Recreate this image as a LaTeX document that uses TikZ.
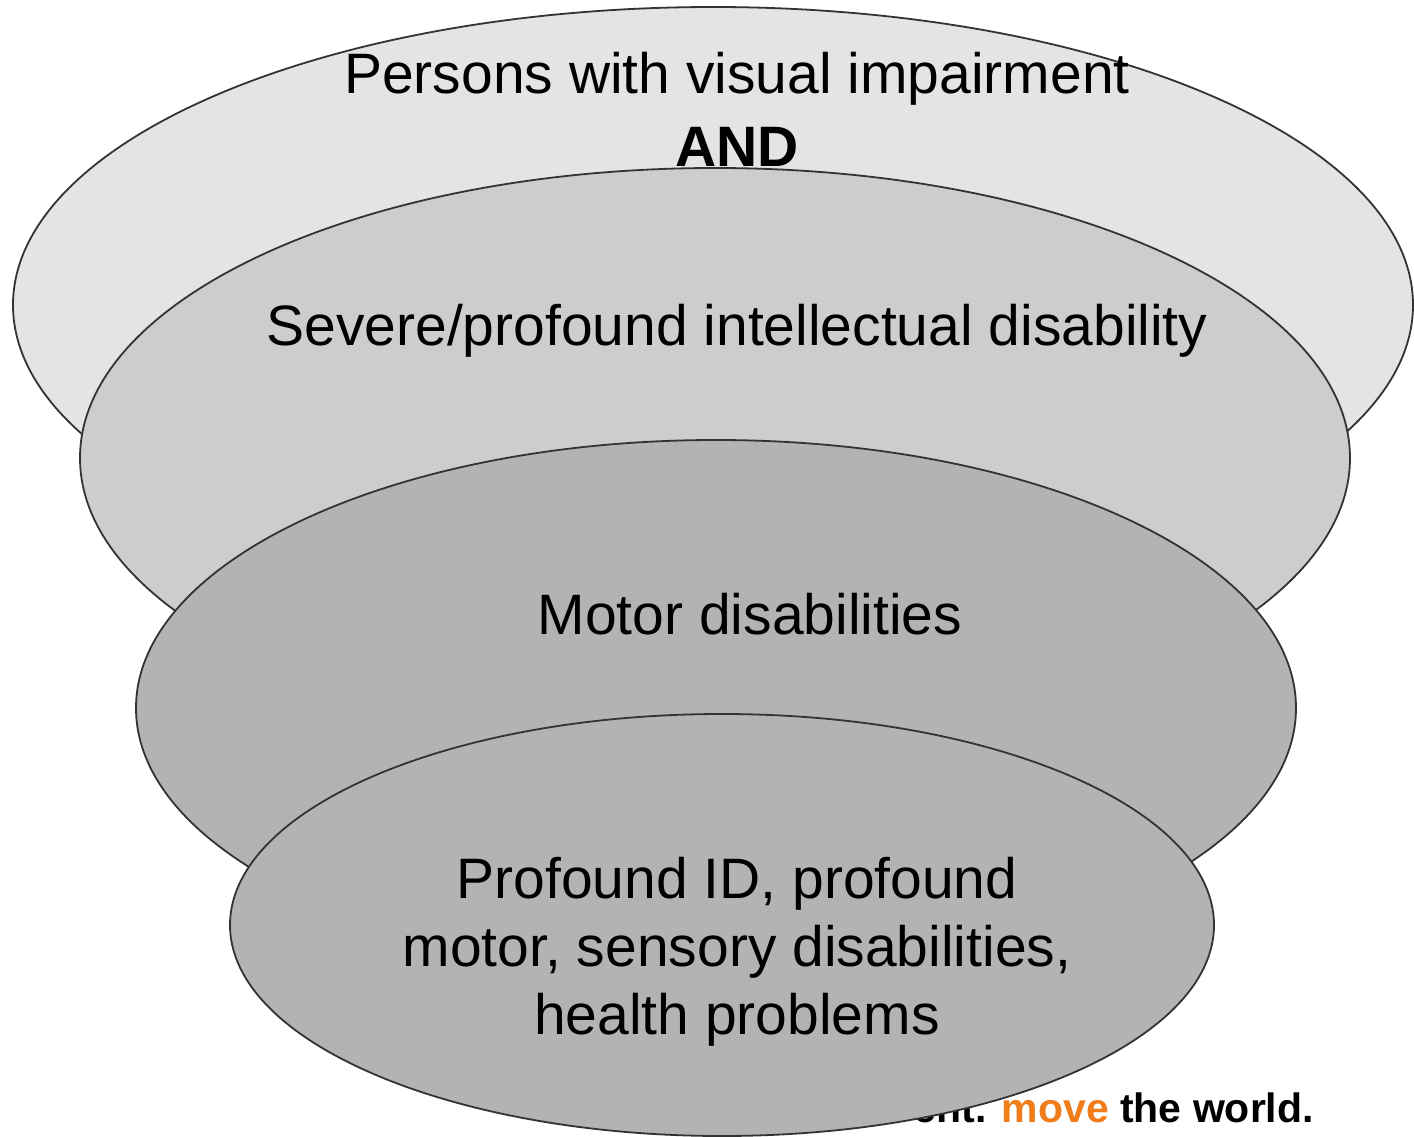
\documentclass[tikz,border=0pt]{standalone}
\usepackage{fontspec}
\setmainfont{Liberation Sans}
\usetikzlibrary{shapes.geometric}
\definecolor{fillA}{HTML}{E4E4E4}
\definecolor{fillB}{HTML}{CDCDCD}
\definecolor{fillC}{HTML}{B3B3B3}
\definecolor{edge}{HTML}{333333}
\definecolor{kuorange}{HTML}{F07C1A}
\begin{document}
\begin{tikzpicture}[x=1pt,y=-1pt,
  layer/.style={ellipse, draw=edge, line width=1.8pt, inner sep=0pt},
  label/.style={font=\fontsize{57}{68}\selectfont, align=center, text=black, inner sep=0pt}]
\useasboundingbox (0,0) rectangle (1414,1137);
\fill[white] (0,0) rectangle (1414,1137);
\node[font=\fontsize{41}{48}\selectfont\bfseries, anchor=base east, inner sep=0pt] (tag) at (1314,1122) {ent. \textcolor{kuorange}{move} the world.};
\node[layer, fill=fillA, minimum width=1400pt, minimum height=596pt] (e1) at (713,305) {};
\node[layer, fill=fillB, minimum width=1270pt, minimum height=580pt] (e2) at (715,458) {};
\node[layer, fill=fillC, minimum width=1160pt, minimum height=536pt] (e3) at (716,708) {};
\node[layer, fill=fillC, minimum width=984pt, minimum height=422pt] (e4) at (722,925) {};
\node[label] (t1) at (737,79) {Persons with visual impairment};
\node[label, font=\fontsize{57}{68}\selectfont\bfseries] (t2) at (737,147) {AND};
\node[label] (t3) at (737,331) {Severe/profound intellectual disability};
\node[label] (t4) at (750,614) {Motor disabilities};
\node[label] (t5) at (737,952) {Profound ID, profound\\motor, sensory disabilities,\\health problems};
\end{tikzpicture}
\end{document}
